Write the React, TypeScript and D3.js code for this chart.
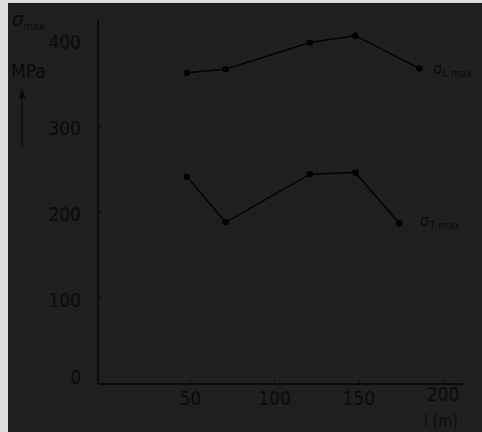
import { useEffect, useRef } from "react";
import * as d3 from "d3";

// values
const lengths = [48, 71, 121, 148, 186];
const sigmaL = [362, 366, 397, 405, 367];
const lengthsT = [48, 71, 121, 148, 174];
const sigmaT = [241, 188, 244, 246, 187];
const xTicks = [50, 100, 150, 200];
const yTicks = [0, 100, 200, 300, 400];

const W = 482;
const H = 432;

export default function App() {
  const svgRef = useRef<SVGSVGElement>(null);

  useEffect(() => {
    const svg = d3.select(svgRef.current);
    svg.selectAll("*").remove();

    const ink = "#0b0b0b";
    const font = "'DejaVu Sans Condensed', 'Liberation Sans Narrow', sans-serif";

    // paper edge + dark scan
    svg.append("rect").attr("width", W).attr("height", H).attr("fill", "#dcdcdc");
    svg.append("rect").attr("x", 8).attr("y", 3).attr("width", W - 8).attr("height", H - 3)
      .attr("fill", "#1f1f1f");

    const x = d3.scaleLinear().domain([0, 200]).range([106, 443]);
    const y = d3.scaleLinear().domain([0, 400]).range([384, 40]);

    const g = svg.append("g");

    // axes
    const x0 = 98;
    const yBase = 384;
    g.append("line").attr("x1", x0).attr("x2", 463).attr("y1", yBase).attr("y2", yBase)
      .attr("stroke", "#050505").attr("stroke-width", 1.4);
    g.append("line").attr("x1", x0).attr("x2", x0).attr("y1", 20).attr("y2", yBase)
      .attr("stroke", "#050505").attr("stroke-width", 1.4);

    // ticks
    yTicks.filter(t => t > 0).forEach(t => {
      g.append("line").attr("x1", x0).attr("x2", x0 + 4).attr("y1", y(t)).attr("y2", y(t))
        .attr("stroke", ink).attr("stroke-width", 1);
      g.append("text").attr("x", 81).attr("y", y(t) + 9).attr("text-anchor", "end")
        .attr("font-family", font).attr("font-size", 19).attr("fill", ink).text(t);
    });
    g.append("text").attr("x", 81).attr("y", yBase).attr("text-anchor", "end")
      .attr("font-family", font).attr("font-size", 19).attr("fill", ink).text(0);

    xTicks.forEach(t => {
      g.append("line").attr("x1", x(t)).attr("x2", x(t)).attr("y1", yBase).attr("y2", yBase - 4)
        .attr("stroke", ink).attr("stroke-width", 1);
      g.append("text").attr("x", x(t)).attr("y", t === 200 ? 401 : 405).attr("text-anchor", "middle")
        .attr("font-family", font).attr("font-size", 19).attr("fill", ink).text(t);
    });

    // axis titles
    const yt = g.append("text").attr("x", 12).attr("y", 26).attr("font-family", font)
      .attr("fill", ink);
    yt.append("tspan").attr("font-size", 20).attr("font-style", "italic").text("σ");
    yt.append("tspan").attr("font-size", 11).attr("dy", 4).text("max");
    g.append("text").attr("x", 11).attr("y", 78).attr("font-family", font).attr("font-size", 19)
      .attr("fill", ink).text("MPa");
    g.append("line").attr("x1", 22).attr("x2", 22).attr("y1", 96).attr("y2", 146)
      .attr("stroke", ink).attr("stroke-width", 1.4);
    g.append("path").attr("d", "M22,88 L18.5,98 L25.5,98 Z").attr("fill", ink);

    g.append("text").attr("x", 424).attr("y", 426).attr("font-family", font).attr("font-size", 16)
      .attr("fill", ink).text("l (m)");

    // series
    const line = d3.line<[number, number]>().x(d => x(d[0])).y(d => y(d[1]));
    const series = [
      { xs: lengths, ys: sigmaL, label: "σ", sub: "L max", lx: 433, ly: 74 },
      { xs: lengthsT, ys: sigmaT, label: "σ", sub: "T max", lx: 420, ly: 226 },
    ];
    series.forEach(s => {
      const pts: [number, number][] = s.xs.map((v, i) => [v, s.ys[i]]);
      g.append("path").datum(pts).attr("d", line).attr("fill", "none")
        .attr("stroke", "#030303").attr("stroke-width", 1.5);
      g.selectAll(null).data(pts).join("circle")
        .attr("cx", d => x(d[0])).attr("cy", d => y(d[1])).attr("r", 3.2).attr("fill", "#020202");
      const t = g.append("text").attr("x", s.lx).attr("y", s.ly).attr("font-family", font)
        .attr("fill", ink);
      t.append("tspan").attr("font-size", 16).text(s.label);
      t.append("tspan").attr("font-size", 11).attr("dy", 3).text(s.sub);
    });
  }, []);

  return (
    <svg ref={svgRef} width={W} height={H}
      style={{ position: "absolute", left: 0, top: 0, display: "block" }} />
  );
}
